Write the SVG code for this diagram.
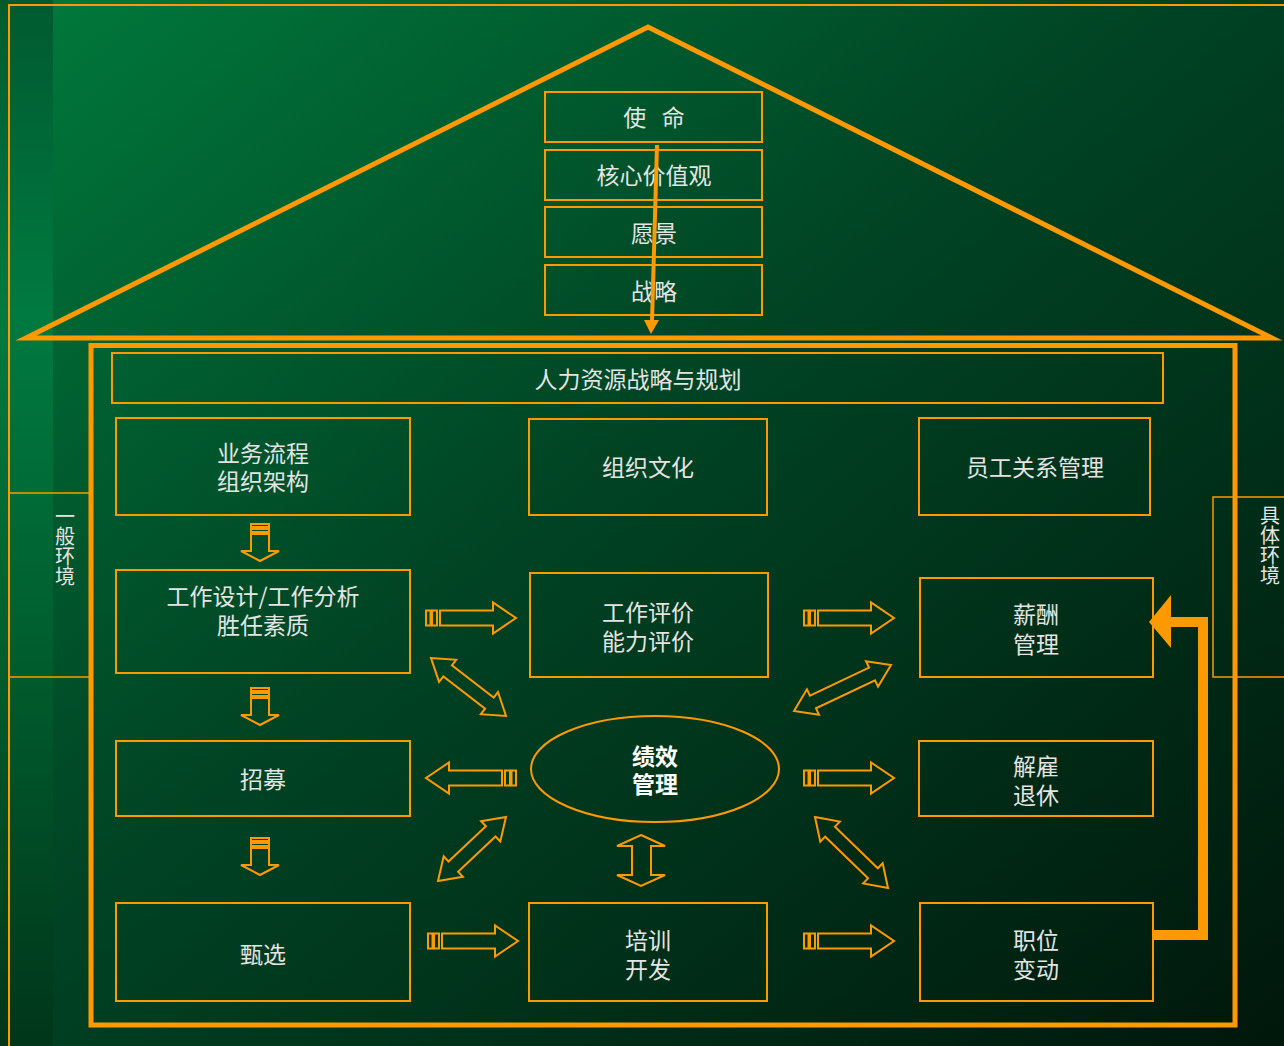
<svg xmlns="http://www.w3.org/2000/svg" width="1284" height="1046" viewBox="0 0 1284 1046">
<defs>
<linearGradient id="bg" x1="0" y1="0" x2="1" y2="1">
<stop offset="0" stop-color="#007a3c"/>
<stop offset="0.45" stop-color="#004424"/>
<stop offset="1" stop-color="#00170b"/>
</linearGradient>
<linearGradient id="strip" x1="0" y1="0" x2="0" y2="1">
<stop offset="0" stop-color="#005a30"/>
<stop offset="0.3" stop-color="#007a40"/>
<stop offset="0.6" stop-color="#00602f"/>
<stop offset="1" stop-color="#00361a"/>
</linearGradient>
<g id="rarrow">
<rect x="0" y="-7.5" width="4.5" height="15"/>
<rect x="6" y="-7.5" width="5" height="15"/>
<path d="M14,-7.5 H67 V-15.5 L90,0 L67,15.5 V7.5 H14 Z"/>
</g>
<g id="darrow">
<rect x="-9" y="0" width="18" height="3"/>
<rect x="-9" y="5" width="18" height="3"/>
<path d="M-9,10 H9 V27 H19 L0,37 L-19,27 H-9 Z"/>
</g>
</defs>
<style>
.box{fill:none;stroke:#ff9900;stroke-width:2}
.arr{fill:none;stroke:#ff9900;stroke-width:2;stroke-linejoin:miter}
.arr rect,.arr path,.arr polygon{fill:none;stroke:#ff9900;stroke-width:2}
.t{font-family:"Noto Sans CJK SC","Liberation Sans",sans-serif;font-size:23px;fill:#e4e4e4;text-anchor:middle;dominant-baseline:central}
.b{font-weight:bold;fill:#ffffff}
.v{font-family:"Noto Sans CJK SC","Liberation Sans",sans-serif;font-size:20px;fill:#e4e4e4;writing-mode:vertical-rl;text-anchor:start}
</style>
<rect x="0" y="0" width="1284" height="1046" fill="url(#bg)"/>
<rect x="0" y="0" width="53" height="1046" fill="url(#strip)"/>
<g id="frame" fill="none" stroke="#ff9900">
<path d="M9,1046 V5 H1284" stroke-width="2"/>
<rect x="9" y="493" width="82" height="184" stroke-width="1.5"/>
<rect x="1213" y="497" width="80" height="180" stroke-width="1.5"/>
<polygon points="26,338 648,27 1272,338" stroke-width="5" stroke-miterlimit="10"/>
<rect x="91" y="345.5" width="1144" height="679.5" stroke-width="5"/>
</g>
<g id="env-general"><text class="v" x="65" y="506">一般环境</text></g>
<g id="env-specific"><text class="v" x="1270" y="505">具体环境</text></g>
<g id="mission"><rect class="box" x="545" y="92" width="217" height="50"/><text class="t" x="654" y="116">使&#160;&#160;&#160;命</text></g>
<g id="values"><rect class="box" x="545" y="150" width="217" height="50"/><text class="t" x="654" y="174">核心价值观</text></g>
<g id="vision"><rect class="box" x="545" y="207" width="217" height="50"/><text class="t" x="654" y="232">愿景</text></g>
<g id="strategy"><rect class="box" x="545" y="265" width="217" height="50"/><text class="t" x="654" y="290">战略</text></g>
<g id="hr-plan"><rect class="box" x="112" y="353" width="1051" height="50"/><text class="t" x="638" y="378">人力资源战略与规划</text></g>
<g id="process"><rect class="box" x="116" y="418" width="294" height="97"/><text class="t" x="263" y="452">业务流程<tspan x="263" dy="28">组织架构</tspan></text></g>
<g id="culture"><rect class="box" x="529" y="419" width="238" height="96"/><text class="t" x="648" y="466">组织文化</text></g>
<g id="relations"><rect class="box" x="919" y="418" width="231" height="97"/><text class="t" x="1035" y="466">员工关系管理</text></g>
<g id="jobdesign"><rect class="box" x="116" y="570" width="294" height="103"/><text class="t" x="263" y="595">工作设计/工作分析<tspan x="263" dy="29">胜任素质</tspan></text></g>
<g id="evaluation"><rect class="box" x="530" y="573" width="238" height="104"/><text class="t" x="648" y="611">工作评价<tspan x="648" dy="29">能力评价</tspan></text></g>
<g id="pay"><rect class="box" x="920" y="578" width="233" height="99"/><text class="t" x="1036" y="613">薪酬<tspan x="1036" dy="30">管理</tspan></text></g>
<g id="recruit"><rect class="box" x="116" y="741" width="294" height="75"/><text class="t" x="263" y="778">招募</text></g>
<g id="performance"><ellipse class="box" cx="655" cy="769" rx="124" ry="53"/><text class="t b" x="655" y="755">绩效<tspan x="655" dy="28">管理</tspan></text></g>
<g id="dismiss"><rect class="box" x="919" y="741" width="234" height="75"/><text class="t" x="1036" y="765">解雇<tspan x="1036" dy="29">退休</tspan></text></g>
<g id="select"><rect class="box" x="116" y="903" width="294" height="98"/><text class="t" x="263" y="953">甄选</text></g>
<g id="training"><rect class="box" x="529" y="903" width="238" height="98"/><text class="t" x="648" y="939">培训<tspan x="648" dy="29">开发</tspan></text></g>
<g id="transfer"><rect class="box" x="920" y="903" width="233" height="98"/><text class="t" x="1036" y="939">职位<tspan x="1036" dy="29">变动</tspan></text></g>
<g id="connectors">
<g fill="none" stroke="#ff9900">
<path d="M657,145 L652,321" stroke-width="4"/>
</g>
<polygon points="644,320 659,320 651,334" fill="#ff9900"/>
<g class="arr">
<use href="#darrow" x="260" y="524"/>
<use href="#darrow" x="260" y="688"/>
<use href="#darrow" x="260" y="838"/>
<use href="#rarrow" x="426" y="618"/>
<use href="#rarrow" x="804" y="618"/>
<use href="#rarrow" x="804" y="778"/>
<use href="#rarrow" x="428" y="941"/>
<use href="#rarrow" x="804" y="941"/>
<use href="#rarrow" transform="translate(516,778) scale(-1,1)"/>
<polygon transform="translate(431,658) rotate(37.7)" points="0,0 21,-14 21,-7 73.8,-7 73.8,-14 94.8,0 73.8,14 73.8,7 21,7 21,14"/>
<polygon transform="translate(794,711) rotate(-25.4)" points="0,0 21,-14 21,-7 86.4,-7 86.4,-14 107.4,0 86.4,14 86.4,7 21,7 21,14"/>
<polygon transform="translate(438,881) rotate(-43.3)" points="0,0 21,-14 21,-7 72.4,-7 72.4,-14 93.4,0 72.4,14 72.4,7 21,7 21,14"/>
<polygon transform="translate(815,817) rotate(44.2)" points="0,0 21,-14 21,-7 80.8,-7 80.8,-14 101.8,0 80.8,14 80.8,7 21,7 21,14"/>
<polygon points="641,835 665,846 651,846 651,875 665,875 641,886 617,875 632,875 632,846 617,846"/>
</g>
<path d="M1153,935 H1203 V622 H1168" fill="none" stroke="#ff9900" stroke-width="10"/>
<polygon points="1149,622 1171,595 1171,648" fill="#ff9900"/>
</g>
</svg>
